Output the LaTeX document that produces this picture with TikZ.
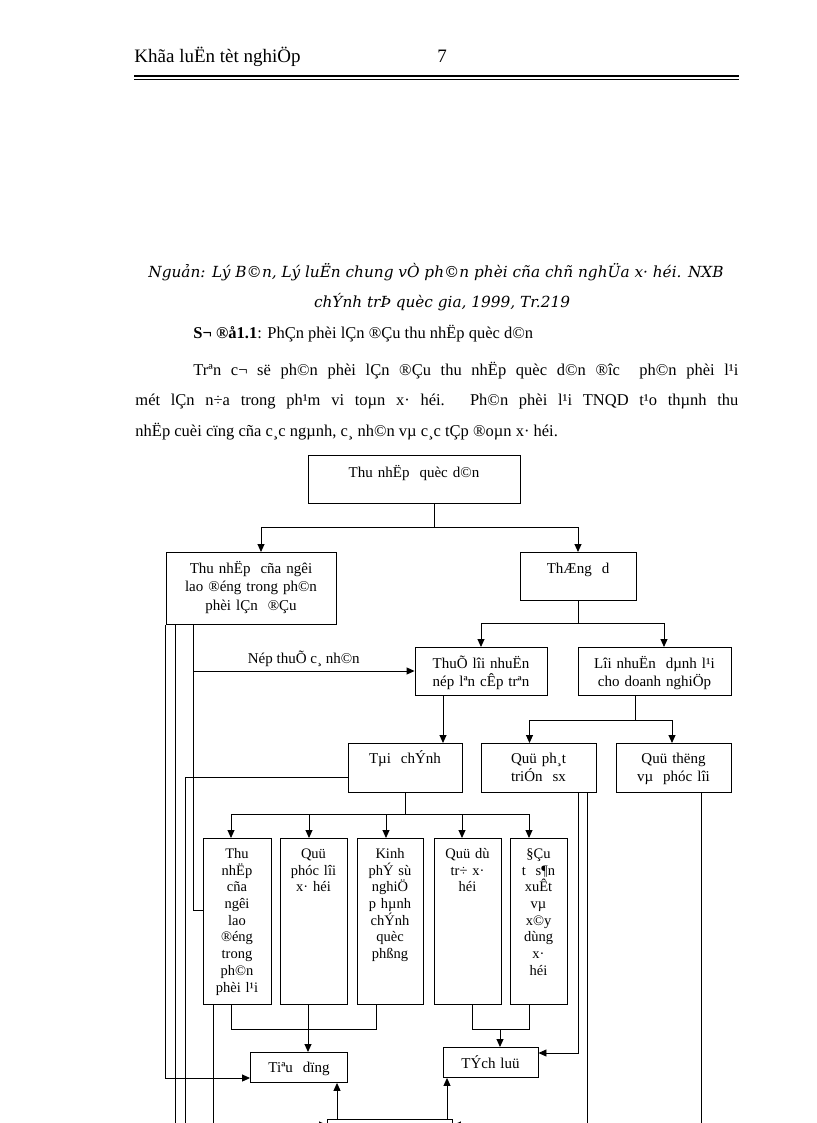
\documentclass[tikz,border=0pt]{standalone}
\usepackage{fontspec}
\setmainfont{Liberation Serif}
\newfontfamily\srcfamily{DejaVu Serif}
\usetikzlibrary{arrows.meta}
\newcommand\bxfont{\fontsize{15}{18.5}\selectfont}
\newcommand\sbxfont{\fontsize{14.5}{16.7}\selectfont}
\newcommand\txfont{\fontsize{16.5}{20}\selectfont}
\newcommand\hdfont{\fontsize{19}{22}\selectfont}
\newcommand\srcfont{\srcfamily\itshape\fontsize{15.3}{18}\selectfont}
\begin{document}
\begin{tikzpicture}[x=1pt, y=-1pt, line width=0.9pt,
    box/.style={draw, inner sep=0pt, anchor=north, align=center, font=\bxfont},
    sbox/.style={box, font=\sbxfont, text height=20pt, text depth=146pt},
    txt/.style={inner sep=0pt, anchor=base west, font=\txfont},
    arr/.style={-{Triangle[length=8pt,width=7pt]}}]
    \fill[white] (0, 0) rectangle (816, 1123);
    \useasboundingbox (0, 0) rectangle (816, 1123);

    % Header
    \node (hdr) [txt, font=\hdfont] at (134, 63) {Khãa luËn tèt nghiÖp};
    \node (pg) [txt, font=\hdfont] at (437, 63) {7};
    \draw[line width=2pt] (134, 76) -- (739, 76);
    \draw[line width=0.8pt] (134, 79.5) -- (739, 79.5);

    % Text
    \node (src1) [txt, anchor=base, font=\srcfont] at (436, 277) {Nguản: Lý B©n, Lý luËn chung vÒ ph©n phèi cña chñ nghÜa x· héi. NXB};
    \node (src2) [txt, anchor=base, font=\srcfont] at (442, 307) {chÝnh trÞ quèc gia, 1999, Tr.219};
    \node (cap) [txt] at (193, 338) {\textbf{S¬ ®å1.1}: PhÇn phèi lÇn ®Çu thu nhËp quèc d©n};
    \node (p1) [txt] at (193, 375) {\makebox[545pt][s]{Trªn c¬ së ph©n phèi lÇn ®Çu thu nhËp quèc d©n ®îc\ \ ph©n phèi l¹i}};
    \node (p2) [txt] at (135, 405) {\makebox[603pt][s]{mét lÇn n÷a trong ph¹m vi toµn x· héi. Ph©n phèi l¹i TNQD t¹o thµnh thu}};
    \node (p3) [txt] at (135, 436) {nhËp cuèi cïng cña c¸c ngµnh, c¸ nh©n vµ c¸c tÇp ®oµn x· héi.};

    % Nodes
    \node (tn) [box, text width=212pt, text height=22pt, text depth=26pt] at (414, 455) {Thu nhËp\ \ quèc d©n};
    \node (ld) [box, text width=170pt, text height=21pt, text depth=51pt] at (251, 552) {Thu nhËp\ \ cña ngêi\\lao ®éng trong ph©n\\phèi lÇn\ \ ®Çu};
    \node (td) [box, text width=116pt, text height=21pt, text depth=27pt] at (578, 552) {ThÆng\ \ d};
    \node (tl) [box, text width=132pt, text height=21pt, text depth=27pt] at (481, 647) {ThuÕ lîi nhuËn\\nép lªn cÊp trªn};
    \node (ln) [box, text width=153pt, text height=21pt, text depth=27pt] at (654.5, 647) {Lîi nhuËn\ \ dµnh l¹i\\cho doanh nghiÖp};
    \node (tc) [box, text width=114pt, text height=20pt, text depth=29pt] at (405, 743) {Tµi\ \ chÝnh};
    \node (pt) [box, text width=115pt, text height=20pt, text depth=29pt] at (538.5, 743) {Quü ph¸t\\triÓn\ \ sx};
    \node (pl) [box, text width=115pt, text height=20pt, text depth=29pt] at (673.5, 743) {Quü thëng\\vµ\ \ phóc lîi};
    \node (b1) [sbox, text width=68pt] at (237, 838) {Thu\\nhËp\\cña\\ngêi\\lao\\®éng\\trong\\ph©n\\phèi l¹i};
    \node (b2) [sbox, text width=67pt] at (313.5, 838) {Quü\\phóc lîi\\x· héi};
    \node (b3) [sbox, text width=66pt] at (390, 838) {Kinh\\phÝ sù\\nghiÖ\\p hµnh\\chÝnh\\quèc\\phßng};
    \node (b4) [sbox, text width=67pt] at (467.5, 838) {Quü dù\\tr÷ x·\\héi};
    \node (b5) [sbox, text width=57pt] at (538.5, 838) {§Çu\\t\ \ s¶n\\xuÊt\\vµ\\x©y\\dùng\\x·\\héi};
    \node (tdg) [box, text width=97pt, text height=20pt, text depth=10pt] at (299, 1052) {Tiªu\ \ dïng};
    \node (tly) [box, text width=95pt, text height=21pt, text depth=9pt] at (490.5, 1047) {TÝch luü};
    \node (bot) [box, text width=125pt, text height=20pt, text depth=30pt] at (390, 1119) {};

    % Edges
    \draw[arr] (tn.south -| 434,0) -- (434, 527) -| (ld.north -| 261,0);
    \draw[arr] (434, 527) -| (td.north);
    \draw[arr] (td.south) -- (578, 623) -| (tl.north);
    \draw[arr] (578, 623) -| (ln.north -| 664,0);
    \draw[arr] (tl.south -| 443,0) -- (tc.north -| 443,0);
    \draw[arr] (ln.south -| 635,0) -- (635, 720) -| (pt.north -| 529.5,0);
    \draw[arr] (635, 720) -| (pl.north -| 672,0);
    \draw (tc.south) -- (405, 814);
    \draw[arr] (405, 814) -| (b1.north -| 231,0);
    \draw[arr] (405, 814) -| (b2.north -| 309,0);
    \draw[arr] (405, 814) -| (b3.north -| 386,0);
    \draw[arr] (405, 814) -| (b4.north -| 462,0);
    \draw[arr] (405, 814) -| (b5.north -| 529,0);
    \draw[arr] (193, 671) -- (tl.west |- 0,671) node[midway, above=4pt, inner sep=0pt, font=\bxfont] {Nép thuÕ c¸ nh©n};
    \draw[arr] (ld.south west) |- (tdg.west |- 0,1078);
    \draw (ld.south -| 175,0) -- (175, 1140);
    \draw (ld.south -| 193,0) |- (b1.west |- 0,910);
    \draw (tc.west |- 0,777) -| (185, 1140);
    \draw[arr] (b1.south -| 213,0) |- (bot.west |- 0,1125);
    \draw (b1.south -| 231.7,0) |- (376, 1029) -- (b3.south -| 376,0);
    \draw[arr] (b2.south -| 308,0) -- (tdg.north -| 308,0);
    \draw (b4.south -| 472,0) |- (529, 1029) -- (b5.south -| 529,0);
    \draw[arr] (500, 1029) -- (tly.north -| 500,0);
    \draw[arr] (pt.south -| 578,0) |- (tly.east |- 0,1053);
    \draw[arr] (pt.south -| 587,0) |- (bot.east |- 0,1125);
    \draw (pl.south -| 701,0) -- (701, 1140);
    \draw[arr] (bot.north -| 337,0) -- (tdg.south -| 337,0);
    \draw[arr] (bot.north -| 447,0) -- (tly.south -| 447,0);
\end{tikzpicture}
\end{document}
